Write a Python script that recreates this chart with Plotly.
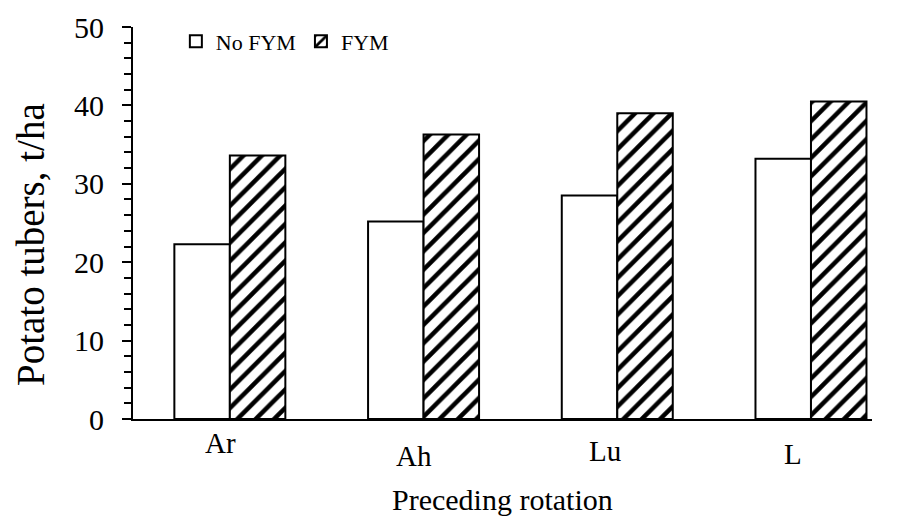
import plotly.graph_objects as go

categories = ["Ar", "Ah", "Lu", "L"]
no_fym = [22.3, 25.2, 28.5, 33.2]
fym = [33.6, 36.3, 39.0, 40.5]
series_names = ["No FYM", "FYM"]
y_tick_vals = [0, 10, 20, 30, 40, 50]

FONT = "Liberation Serif, Times New Roman, serif"

fig = go.Figure()
fig.add_trace(go.Bar(
    x=categories, y=no_fym, name=series_names[0],
    marker=dict(color="white", line=dict(color="black", width=2)),
))
fig.add_trace(go.Bar(
    x=categories, y=fym, name=series_names[1],
    marker=dict(color="white", line=dict(color="black", width=2),
                pattern=dict(shape="/", fgcolor="black", bgcolor="white",
                             size=13, solidity=0.35, fillmode="replace")),
))

# the page body adds an 8px offset, so the figure is 8px smaller
W, H = 889, 512
L_, R_, T_, B_ = 125, 25, 19, 101

# category labels (slightly staggered, as in the original)
label_dx = [-9, -10, -12, -18]
label_dy = [24, 37, 32, 35]
annotations = []
for c, dx, dy in zip(categories, label_dx, label_dy):
    annotations.append(dict(x=c, xref="x", y=0, yref="paper", text=c,
                            showarrow=False, xshift=dx, yshift=-dy,
                            xanchor="center", yanchor="middle",
                            font=dict(family=FONT, size=29, color="black")))
annotations.append(dict(x=0.5, xref="paper", y=0, yref="paper",
                        text="Preceding rotation", showarrow=False,
                        yshift=-80, xanchor="center", yanchor="middle",
                        font=dict(family=FONT, size=30, color="black")))
annotations.append(dict(x=0, xref="paper", y=0.5, yref="paper",
                        text="Potato tubers, t/ha", showarrow=False,
                        xshift=-103, yshift=-22, textangle=-90,
                        xanchor="center", yanchor="middle",
                        font=dict(family=FONT, size=39, color="black")))

fig.update_layout(
    width=W, height=H,
    margin=dict(l=L_, r=R_, t=T_, b=B_, pad=0, autoexpand=False),
    paper_bgcolor="white", plot_bgcolor="white",
    barmode="group", bargap=0.427, bargroupgap=0,
    font=dict(family=FONT, color="black"),
    showlegend=True,
    legend=dict(orientation="h", x=0.058, xanchor="left", y=0.963,
                yanchor="middle", font=dict(family=FONT, size=22, color="black"),
                bgcolor="rgba(0,0,0,0)", itemwidth=30, traceorder="normal"),
    annotations=annotations,
    xaxis=dict(type="category", range=[-0.5, 3.315], showline=True,
               linecolor="black", linewidth=2, ticks="", showticklabels=False,
               showgrid=False, zeroline=False, fixedrange=True, automargin=False),
    yaxis=dict(range=[0, 50], tickvals=y_tick_vals, showline=True,
               linecolor="black", linewidth=2, ticks="outside", ticklen=9,
               tickwidth=2, tickcolor="black", showgrid=False, zeroline=False,
               ticklabelstandoff=12, automargin=False,
               tickfont=dict(family=FONT, size=30, color="black"),
               minor=dict(dtick=2, ticks="outside", ticklen=7, tickwidth=1.5,
                          tickcolor="black", showgrid=False),
               fixedrange=True),
)

fig.write_html("out.html")
